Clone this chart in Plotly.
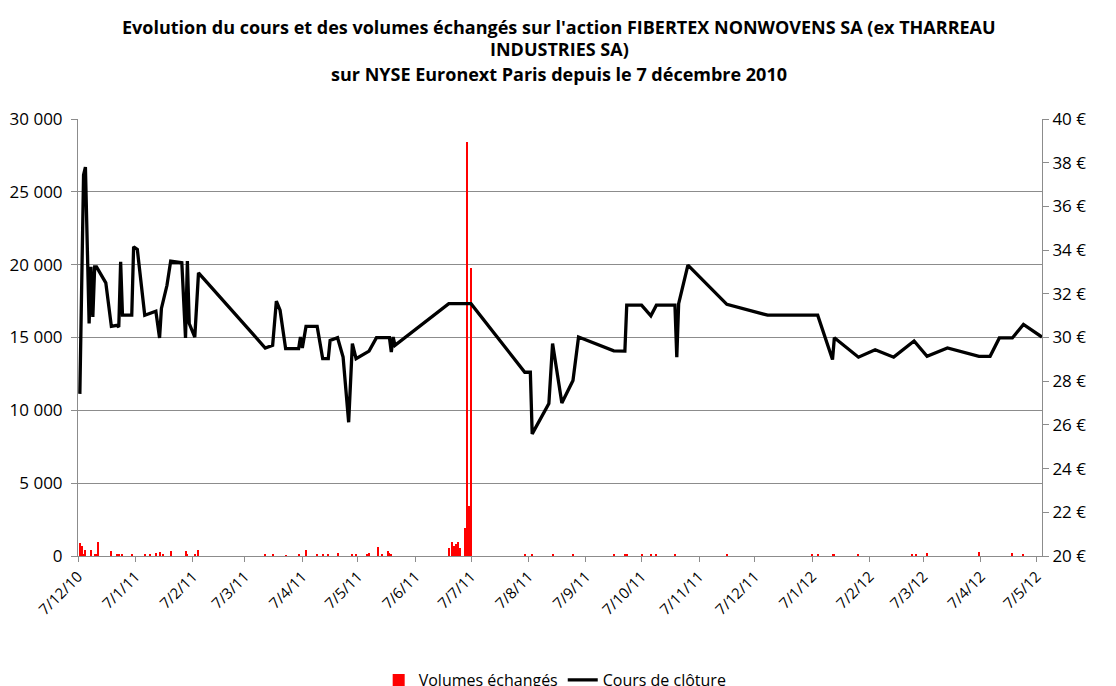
import plotly.graph_objects as go

# Closing price (€)
price_dates = [
    "2010-12-08", "2010-12-10", "2010-12-11", "2010-12-13", "2010-12-14", "2010-12-15",
    "2010-12-16", "2010-12-17", "2010-12-22", "2010-12-25", "2010-12-28", "2010-12-29",
    "2010-12-30", "2010-12-31", "2011-01-05", "2011-01-06", "2011-01-08", "2011-01-12",
    "2011-01-18", "2011-01-20", "2011-01-21", "2011-01-24", "2011-01-26", "2011-02-01",
    "2011-02-03", "2011-02-04", "2011-02-05", "2011-02-08", "2011-02-10", "2011-03-18",
    "2011-03-22", "2011-03-24", "2011-03-26", "2011-03-29", "2011-04-05", "2011-04-06",
    "2011-04-07", "2011-04-09", "2011-04-15", "2011-04-18", "2011-04-21", "2011-04-22",
    "2011-04-26", "2011-04-29", "2011-05-02", "2011-05-04", "2011-05-06", "2011-05-08",
    "2011-05-13", "2011-05-17", "2011-05-24", "2011-05-25", "2011-05-26", "2011-05-27",
    "2011-06-25", "2011-07-07", "2011-08-05", "2011-08-08", "2011-08-09", "2011-08-18",
    "2011-08-20", "2011-08-25", "2011-08-31", "2011-09-03", "2011-09-22", "2011-09-28",
    "2011-09-29", "2011-10-07", "2011-10-12", "2011-10-15", "2011-10-25", "2011-10-26",
    "2011-10-27", "2011-11-01", "2011-11-22", "2011-12-14", "2012-01-10", "2012-01-18",
    "2012-01-19", "2012-02-01", "2012-02-10", "2012-02-20", "2012-03-02", "2012-03-09",
    "2012-03-20", "2012-04-06", "2012-04-12", "2012-04-17", "2012-04-24", "2012-04-30",
    "2012-05-10",
]
price_values = [
    27.42, 37.44, 37.80, 30.64, 33.23, 30.94,
    33.23, 33.23, 32.50, 30.51, 30.56, 30.48,
    33.46, 31.02, 31.02, 34.15, 34.03, 31.02,
    31.20, 29.98, 31.33, 32.39, 33.50, 33.42,
    29.98, 33.50, 30.64, 30.02, 32.96, 29.52,
    29.64, 31.66, 31.25, 29.49, 29.49, 30.02,
    29.52, 30.51, 30.51, 29.03, 29.03, 29.87,
    29.99, 29.10, 26.12, 29.72, 29.03, 29.14,
    29.38, 29.99, 29.99, 29.33, 30.02, 29.64,
    31.55, 31.55, 28.41, 28.41, 25.59, 26.98,
    29.72, 27.00, 28.03, 30.02, 29.39, 29.38,
    31.48, 31.48, 30.99, 31.48, 31.48, 29.10,
    31.55, 33.31, 31.52, 31.02, 31.02, 28.99,
    29.99, 29.10, 29.44, 29.10, 29.84, 29.14,
    29.52, 29.14, 29.14, 29.98, 29.98, 30.60,
    30.02,
]

# Traded volumes
volume_dates = [
    "2010-12-08", "2010-12-09", "2010-12-10", "2010-12-11", "2010-12-14", "2010-12-16",
    "2010-12-17", "2010-12-18", "2010-12-25", "2010-12-28", "2010-12-29", "2010-12-31",
    "2011-01-05", "2011-01-12", "2011-01-15", "2011-01-18", "2011-01-20", "2011-01-22",
    "2011-01-26", "2011-02-03", "2011-02-04", "2011-02-08", "2011-02-10", "2011-03-18",
    "2011-03-22", "2011-03-29", "2011-04-05", "2011-04-09", "2011-04-15", "2011-04-18",
    "2011-04-21", "2011-04-26", "2011-05-04", "2011-05-06", "2011-05-12", "2011-05-13",
    "2011-05-18", "2011-05-20", "2011-05-23", "2011-05-24", "2011-05-25", "2011-06-25",
    "2011-06-27", "2011-06-28", "2011-06-29", "2011-06-30", "2011-07-01", "2011-07-04",
    "2011-07-05", "2011-07-06", "2011-07-07", "2011-08-05", "2011-08-09", "2011-08-20",
    "2011-08-31", "2011-09-22", "2011-09-28", "2011-09-29", "2011-10-07", "2011-10-12",
    "2011-10-15", "2011-10-25", "2011-11-22", "2012-01-07", "2012-01-10", "2012-01-18",
    "2012-01-19", "2012-02-01", "2012-03-01", "2012-03-03", "2012-03-09", "2012-04-06",
    "2012-04-24", "2012-04-30",
]
volume_values = [
    900, 680, 160, 390, 390, 70,
    70, 950, 340, 115, 115, 160,
    70, 70, 115, 180, 275, 115,
    340, 340, 115, 160, 410, 160,
    70, 50, 115, 390, 70, 115,
    115, 180, 115, 115, 70, 180,
    620, 115, 340, 230, 115, 570,
    985, 690, 850, 965, 570, 1900,
    28400, 3400, 19800, 170, 170, 120,
    100, 100, 70, 70, 170, 100,
    150, 100, 100, 70, 170, 70,
    70, 100, 70, 70, 230, 250,
    230, 100,
]

# X axis ticks (7th of each month)
tick_dates = [
    "2010-12-07", "2011-01-07", "2011-02-07", "2011-03-07", "2011-04-07", "2011-05-07",
    "2011-06-07", "2011-07-07", "2011-08-07", "2011-09-07", "2011-10-07", "2011-11-07",
    "2011-12-07", "2012-01-07", "2012-02-07", "2012-03-07", "2012-04-07", "2012-05-07",
]
tick_labels = [
    "7/12/10", "7/1/11", "7/2/11", "7/3/11", "7/4/11", "7/5/11",
    "7/6/11", "7/7/11", "7/8/11", "7/9/11", "7/10/11", "7/11/11",
    "7/12/11", "7/1/12", "7/2/12", "7/3/12", "7/4/12", "7/5/12",
]

title_lines = [
    "Evolution du cours et des volumes échangés sur l'action FIBERTEX NONWOVENS SA (ex THARREAU",
    "INDUSTRIES SA)",
    "sur NYSE Euronext Paris depuis le 7 décembre 2010",
]

FONT = "Open Sans"
GRID = "#8c8c8c"
W, H = 1116, 686
ML, MR, MT, MB = 70, 82, 111, 138
PW, PH = W - ML - MR, H - MT - MB

fig = go.Figure()
fig.add_trace(go.Bar(
    x=volume_dates, y=volume_values, name="Volumes échangés",
    marker=dict(color="#ff0000", line=dict(width=0)),
    width=0.55 * 86400000, yaxis="y",
))
fig.add_trace(go.Scatter(
    x=price_dates, y=price_values, name="Cours de clôture",
    mode="lines", line=dict(color="#000000", width=3.3), yaxis="y2",
))

title_y_px = [19, 41, 66]
for txt, ypx in zip(title_lines, title_y_px):
    fig.add_annotation(
        text="<b>" + txt + "</b>", xref="paper", yref="paper",
        x=(551 - ML) / PW, y=1 + (MT - ypx) / PH,
        xanchor="center", yanchor="middle", showarrow=False,
        font=dict(family=FONT, size=18, color="#000000"),
    )

fig.update_layout(
    width=W, height=H,
    margin=dict(l=ML, r=MR, t=MT, b=MB, autoexpand=False),
    paper_bgcolor="white", plot_bgcolor="white",
    font=dict(family=FONT, size=15, color="#000000"),
    separators=", ",
    xaxis=dict(
        type="date", range=["2010-12-07", "2012-05-10"],
        tickmode="array", tickvals=tick_dates, ticktext=tick_labels,
        tickangle=-45, tickfont=dict(size=15), automargin=False,
        showline=True, linecolor=GRID, linewidth=1,
        ticks="outside", ticklen=5, tickcolor=GRID,
        showgrid=False, zeroline=False,
    ),
    yaxis=dict(
        range=[0, 30000], dtick=5000, tickformat=",d", automargin=False,
        showline=True, linecolor=GRID, linewidth=1,
        ticks="outside", ticklen=6, tickcolor=GRID, ticklabelstandoff=5,
        showgrid=True, gridcolor=GRID, gridwidth=1,
        zeroline=False, tickfont=dict(size=17),
    ),
    yaxis2=dict(
        range=[20, 40], dtick=2, ticksuffix=" €", overlaying="y", side="right",
        automargin=False,
        showline=True, linecolor=GRID, linewidth=1,
        ticks="outside", ticklen=6, tickcolor=GRID,
        showgrid=False, zeroline=False, tickfont=dict(size=17),
    ),
    bargap=0,
    showlegend=True,
    legend=dict(
        orientation="h", x=0.495, xanchor="center", y=(MT + PH - 672) / PH,
        yanchor="middle",
        font=dict(size=16), bgcolor="rgba(0,0,0,0)",
    ),
)

fig.write_html("out.html")
